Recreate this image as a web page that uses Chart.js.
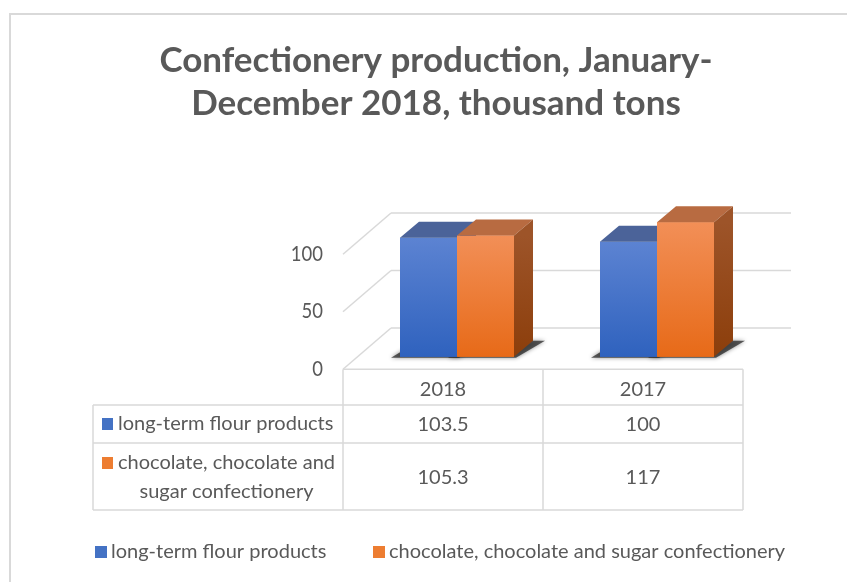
<!DOCTYPE html>
<html>
<head>
<meta charset="utf-8">
<script src="https://cdn.jsdelivr.net/npm/chart.js@4.4.1/dist/chart.umd.min.js"></script>
<style>
  html, body { margin: 0; padding: 0; background: #fff; }
  #wrap { width: 847px; height: 582px; }
</style>
</head>
<body>
<div id="wrap"><canvas id="chart" width="847" height="582"></canvas></div>
<script>
// data
const categories = ['2018', '2017'];
const seriesNames = ['long-term flour products', 'chocolate, chocolate and sugar confectionery'];
const flourValues = [103.5, 100];
const chocolateValues = [105.3, 117];
const yTicks = [0, 50, 100];
const titleLines = ['Confectionery production, January-', 'December 2018, thousand tons'];
// table row labels as they wrap in the original
const rowLabels = [['long-term flour products'], ['chocolate, chocolate and', 'sugar confectionery']];

// look
const TEXT = '#595959';
const GRID = '#d9d9d9';
const FONT = 'Lato, "Open Sans", sans-serif';
const BLUE = { front: ['#5c83d2', '#2f62be'], top: '#4b6399', side: ['#2c4f93', '#21407c'], key: '#4472c4' };
const ORANGE = { front: ['#f28f57', '#e76a18'], top: '#b86b41', side: ['#9d5429', '#8c3e0b'], key: '#ed7d31' };
const LOOKS = [BLUE, ORANGE];

// 3d offsets, relative to the plane the bar fronts sit in
const D = { x: 19, y: -16 };        // bar depth
const FLOOR = { x: -14, y: 12.5 };  // front edge of the floor
const BACK = { x: 34, y: -28.7 };   // back wall

function text(ctx, str, x, y, size, align, bold, sx) {
  ctx.save();
  ctx.font = (bold ? 'bold ' : '') + size + 'px ' + FONT;
  ctx.fillStyle = TEXT;
  ctx.textAlign = align;
  ctx.textBaseline = 'middle';
  ctx.translate(x, y);
  ctx.scale(sx || 1, 1);
  ctx.fillText(str, 0, 0);
  ctx.restore();
}

function line(ctx, x1, y1, x2, y2) {
  ctx.beginPath();
  ctx.moveTo(x1, y1);
  ctx.lineTo(x2, y2);
  ctx.stroke();
}

function poly(ctx, pts, fill) {
  ctx.beginPath();
  ctx.moveTo(pts[0][0], pts[0][1]);
  for (let i = 1; i < pts.length; i++) ctx.lineTo(pts[i][0], pts[i][1]);
  ctx.closePath();
  ctx.fillStyle = fill;
  ctx.fill();
}

function frontFill(look) {
  return (c) => {
    const chart = c.chart;
    if (!chart.chartArea || c.type !== 'data') return look.front[1];
    const y = chart.scales.y;
    const g = chart.ctx.createLinearGradient(0, y.getPixelForValue(c.parsed.y), 0, y.getPixelForValue(0));
    g.addColorStop(0, look.front[0]);
    g.addColorStop(1, look.front[1]);
    return g;
  };
}

const scenePlugin = {
  id: 'scene',
  beforeDraw(chart) {
    const ctx = chart.ctx;
    const area = chart.chartArea;
    const x = chart.scales.x, y = chart.scales.y;
    const catW = area.width / categories.length;

    ctx.save();
    ctx.fillStyle = '#fff';
    ctx.fillRect(0, 0, chart.width, chart.height);

    // outer frame
    ctx.strokeStyle = GRID;
    ctx.lineWidth = 2;
    ctx.strokeRect(10, 14, chart.width + 20, chart.height + 20);

    // title
    text(ctx, titleLines[0], 436, 61, 35, 'center', true);
    text(ctx, titleLines[1], 436, 104, 35, 'center', true);

    // walls and gridlines
    ctx.strokeStyle = GRID;
    ctx.lineWidth = 1.5;
    yTicks.forEach(v => {
      const py = y.getPixelForValue(v);
      line(ctx, area.left + FLOOR.x, py + FLOOR.y, area.left + BACK.x, py + BACK.y);
      line(ctx, area.left + BACK.x, py + BACK.y, area.right + BACK.x, py + BACK.y);
      text(ctx, String(v), area.left + FLOOR.x - 20, py + FLOOR.y, 21, 'right', false, 0.88);
    });

    // data table
    const tl = area.left + FLOOR.x;
    const tr = area.right + FLOOR.x;
    const rows = [y.getPixelForValue(0) + FLOOR.y, 405, 443, 510];
    const labelL = 93;
    line(ctx, tl, rows[0], tr, rows[0]);
    for (let r = 1; r < rows.length; r++) line(ctx, labelL, rows[r], tr, rows[r]);
    line(ctx, labelL, rows[1], labelL, rows[3]);
    for (let c = 0; c <= categories.length; c++) line(ctx, tl + c * catW, rows[0], tl + c * catW, rows[3]);

    const series = [flourValues, chocolateValues];
    categories.forEach((cat, i) => {
      const cx = x.getPixelForValue(i) + FLOOR.x;
      text(ctx, cat, cx, (rows[0] + rows[1]) / 2 + 2, 20, 'center');
      series.forEach((vals, s) => {
        text(ctx, String(vals[i]), cx, (rows[s + 1] + rows[s + 2]) / 2 + 1, 20, 'center');
      });
    });
    ctx.font = '20px ' + FONT;
    rowLabels.forEach((lines, s) => {
      const top = rows[s + 1];
      const firstY = lines.length === 1 ? (top + rows[s + 2]) / 2 : top + 20;
      ctx.fillStyle = LOOKS[s].key;
      ctx.fillRect(102, firstY - 6, 11, 12);
      const mid = 118 + ctx.measureText(lines[0]).width / 2;
      lines.forEach((l, k) => text(ctx, l, mid, firstY + k * 29, 20, 'center'));
    });

    // legend
    const legendX = [95, 373];
    seriesNames.forEach((name, s) => {
      ctx.fillStyle = LOOKS[s].key;
      ctx.fillRect(legendX[s], 546, 12, 12);
      text(ctx, name, legendX[s] + 16, 552, 20, 'left');
    });

    // soft shadows on the floor under each bar
    ctx.save();
    ctx.shadowColor = 'rgba(0,0,0,0.6)';
    ctx.shadowBlur = 4;
    chart.data.datasets.forEach((ds, d) => {
      chart.getDatasetMeta(d).data.forEach(bar => {
        const p = bar.getProps(['x', 'base', 'width'], true);
        const x0 = p.x - p.width / 2, x1 = p.x + p.width / 2, b = p.base;
        poly(ctx, [[x0 - 9, b + 1], [x1 + 2, b + 1], [x1 + D.x + 12, b + D.y], [x0 + D.x, b + D.y]], 'rgba(40,40,40,0.75)');
      });
    });
    ctx.restore();
    ctx.restore();
  },
  afterDatasetsDraw(chart) {
    const ctx = chart.ctx;
    ctx.save();
    categories.forEach((cat, i) => {
      chart.data.datasets.forEach((ds, d) => {
        const bar = chart.getDatasetMeta(d).data[i];
        const look = LOOKS[d];
        bar.draw(ctx);
        const p = bar.getProps(['x', 'y', 'base', 'width'], true);
        const x0 = p.x - p.width / 2, x1 = p.x + p.width / 2;
        poly(ctx, [[x0, p.y], [x1, p.y], [x1 + D.x, p.y + D.y], [x0 + D.x, p.y + D.y]], look.top);
        const g = ctx.createLinearGradient(0, p.y, 0, p.base);
        g.addColorStop(0, look.side[0]);
        g.addColorStop(1, look.side[1]);
        poly(ctx, [[x1, p.y], [x1 + D.x, p.y + D.y], [x1 + D.x, p.base + D.y], [x1, p.base]], g);
      });
    });
    ctx.restore();
  }
};

new Chart(document.getElementById('chart'), {
  type: 'bar',
  data: {
    labels: categories,
    datasets: [
      { label: seriesNames[0], data: flourValues, backgroundColor: frontFill(BLUE), borderWidth: 0, clip: false },
      { label: seriesNames[1], data: chocolateValues, backgroundColor: frontFill(ORANGE), borderWidth: 0, clip: false }
    ]
  },
  options: {
    responsive: false,
    animation: false,
    devicePixelRatio: 1,
    categoryPercentage: 0.57,
    barPercentage: 1,
    layout: { padding: { left: 357, right: 90, top: 195.7, bottom: 225.3 } },
    plugins: { legend: { display: false }, title: { display: false }, tooltip: { enabled: false } },
    scales: {
      x: { display: false },
      y: { display: false, min: 0, max: 140 }
    }
  },
  plugins: [scenePlugin]
});
</script>
</body>
</html>
